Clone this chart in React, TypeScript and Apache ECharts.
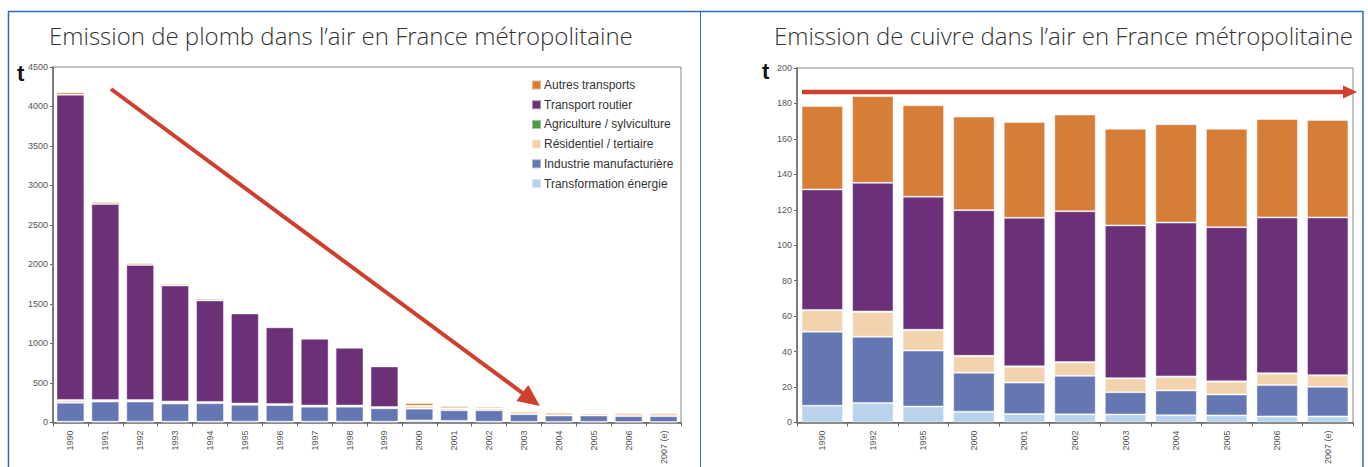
import React, { useEffect, useRef } from "react";
import * as echarts from "echarts";

// ---- Lead (plomb) chart data ----
const leadYears = ["1990","1991","1992","1993","1994","1995","1996","1997","1998","1999","2000","2001","2002","2003","2004","2005","2006","2007 (e)"];
const leadEnergie = [10,10,10,10,10,10,10,10,10,10,25,20,10,8,8,8,6,6];
const leadIndustrie = [240,255,255,230,235,215,210,190,190,170,150,135,145,97,80,80,74,74];
const leadResidentiel = [30,15,15,15,12,12,12,12,12,12,34,25,25,37,42,30,42,42];
const leadAgriculture = [5,3,3,10,3,3,3,3,3,3,2,2,2,2,2,2,2,2];
const leadRoutier = [3865,2482,1712,1470,1285,1140,970,845,730,515,0,0,0,0,0,0,0,0];
const leadAutres = [30,25,20,20,20,12,10,10,10,8,35,25,20,8,5,12,5,5];

// ---- Copper (cuivre) chart data ----
const cuYears = ["1990","1992","1995","2000","2001","2002","2003","2004","2005","2006","2007 (e)"];
const cuEnergie = [9.5,11,9,6.1,4.8,4.6,4.5,4.1,4,3.4,3.4];
const cuIndustrie = [41.7,37.4,31.6,22,17.7,21.7,12.6,14,11.8,17.7,16.7];
const cuResidentiel = [12.1,14,11.5,9.3,9,7.6,7.7,7.6,7.2,6.5,6.4];
const cuAgriculture = [0.2,0.2,0.2,0.2,0.2,0.2,0.2,0.3,0.2,0.2,0.2];
const cuRoutier = [68,72.6,75.1,82.2,83.8,85.1,86.2,86.8,87,87.9,89];
const cuAutres = [47.1,49,51.6,52.8,54,54.5,54.5,55.5,55.5,55.5,55];

const seriesNames = ["Transformation énergie","Industrie manufacturière","Résidentiel / tertiaire","Agriculture / sylviculture","Transport routier","Autres transports"];
const legendOrder = ["Autres transports","Transport routier","Agriculture / sylviculture","Résidentiel / tertiaire","Industrie manufacturière","Transformation énergie"];
const colors = ["#b9d3ec","#6577b3","#f2d3ad","#4e9a45","#6b3077","#d67d38"];
const leadTicks = { min: 0, max: 4500, interval: 500 };
const cuTicks = { min: 0, max: 200, interval: 20 };

function arrow(x1: number, y1: number, x2: number, y2: number, color: string, w: number, headLen: number, headHalf: number) {
  const dx = x2 - x1, dy = y2 - y1;
  const L = Math.sqrt(dx * dx + dy * dy);
  const ux = dx / L, uy = dy / L;
  const nx = -uy, ny = ux;
  const bx = x2 - ux * headLen, by = y2 - uy * headLen;
  return [
    { type: "line", shape: { x1, y1, x2: bx + ux * 2, y2: by + uy * 2 }, style: { stroke: color, lineWidth: w }, z: 100 },
    { type: "polygon", shape: { points: [[x2, y2], [bx + nx * headHalf, by + ny * headHalf], [bx - nx * headHalf, by - ny * headHalf]] }, style: { fill: color }, z: 100 },
  ];
}

export default function App() {
  const ref = useRef<HTMLDivElement>(null);
  useEffect(() => {
    const chart = echarts.init(ref.current!, null, { renderer: "svg" });
    const axisLabel = { fontSize: 9, color: "#555", fontFamily: "Liberation Sans, Arial, sans-serif" };
    const axisLine = { show: true, lineStyle: { color: "#666", width: 1.5 } };
    const plain = (v: number) => String(v);
    const leadData = [leadEnergie, leadIndustrie, leadResidentiel, leadAgriculture, leadRoutier, leadAutres];
    const cuData = [cuEnergie, cuIndustrie, cuResidentiel, cuAgriculture, cuRoutier, cuAutres];
    const series: any[] = [];
    seriesNames.forEach((name, i) => {
      series.push({
        name, type: "bar", stack: "lead", xAxisIndex: 0, yAxisIndex: 0, barCategoryGap: "20%",
        data: leadData[i], itemStyle: { color: colors[i], borderColor: "rgba(255,255,255,0.45)", borderWidth: 1 },
      });
      series.push({
        name, type: "bar", stack: "cu", xAxisIndex: 1, yAxisIndex: 1, barCategoryGap: "18%",
        data: cuData[i], itemStyle: { color: colors[i], borderColor: "rgba(255,255,255,0.45)", borderWidth: 1 },
      });
    });
    const titleStyle = { fontSize: 24, fill: "#333", fontFamily: "Open Sans, Noto Sans, sans-serif", fontWeight: 300 };
    chart.setOption({
      animation: false,
      backgroundColor: "#fff",
      color: colors,
      legend: {
        data: legendOrder, orient: "vertical", left: 531, top: 79, itemWidth: 9, itemHeight: 9, itemGap: 7.7,
        icon: "rect", padding: 0,
        textStyle: { fontSize: 12, color: "#333", fontFamily: "Liberation Sans, Arial, sans-serif", padding: [0, 0, 0, -2] },
      },
      grid: [
        { left: 53, top: 67, width: 628, height: 359, show: true, borderColor: "#888", borderWidth: 1, backgroundColor: "transparent" },
        { left: 797, top: 68, width: 556, height: 358, show: true, borderColor: "#888", borderWidth: 1, backgroundColor: "transparent" },
      ],
      xAxis: [
        { type: "category", gridIndex: 0, data: leadYears, axisLine, axisTick: { show: true, length: 4, lineStyle: { color: "#666" } }, axisLabel: { ...axisLabel, rotate: 90, margin: 8 } },
        { type: "category", gridIndex: 1, data: cuYears, axisLine, axisTick: { show: true, length: 4, lineStyle: { color: "#666" } }, axisLabel: { ...axisLabel, rotate: 90, margin: 8 } },
      ],
      yAxis: [
        { type: "value", gridIndex: 0, ...leadTicks, axisLine, axisTick: { show: true, length: 3, lineStyle: { color: "#666" } }, splitLine: { show: false }, axisLabel: { ...axisLabel, margin: 5, formatter: plain } },
        { type: "value", gridIndex: 1, ...cuTicks, axisLine, axisTick: { show: true, length: 3, lineStyle: { color: "#666" } }, splitLine: { show: false }, axisLabel: { ...axisLabel, margin: 5, formatter: plain } },
      ],
      series,
      graphic: [
        { type: "line", shape: { x1: 8, y1: 11.5, x2: 1363, y2: 11.5 }, style: { stroke: "#2f6db3", lineWidth: 1.5 } },
        { type: "line", shape: { x1: 8.5, y1: 11, x2: 8.5, y2: 467 }, style: { stroke: "#2f6db3", lineWidth: 1.5 } },
        { type: "line", shape: { x1: 1363, y1: 11, x2: 1363, y2: 467 }, style: { stroke: "#2f6db3", lineWidth: 1.5 } },
        { type: "line", shape: { x1: 700.5, y1: 11, x2: 700.5, y2: 467 }, style: { stroke: "#2f6db3", lineWidth: 1 } },
        { type: "text", left: 49, top: 23, style: { text: "Emission de plomb dans l’air en France métropolitaine", ...titleStyle } },
        { type: "text", right: 15, top: 23, style: { text: "Emission de cuivre dans l’air en France métropolitaine", ...titleStyle } },
        { type: "text", left: 17, top: 62, style: { text: "t", fontSize: 22, fontWeight: "bold", fill: "#111", fontFamily: "Liberation Sans, Arial, sans-serif" } },
        { type: "text", left: 762, top: 60, style: { text: "t", fontSize: 22, fontWeight: "bold", fill: "#111", fontFamily: "Liberation Sans, Arial, sans-serif" } },
        ...arrow(111, 89, 540, 406, "#cf3f2e", 4, 22, 10),
        ...arrow(802, 92, 1357, 92, "#cf3f2e", 4.5, 14, 6.5),
      ],
    });
    return () => chart.dispose();
  }, []);
  return <div ref={ref} style={{ width: 1368, height: 467, position: "absolute", left: 0, top: 0 }} />;
}
